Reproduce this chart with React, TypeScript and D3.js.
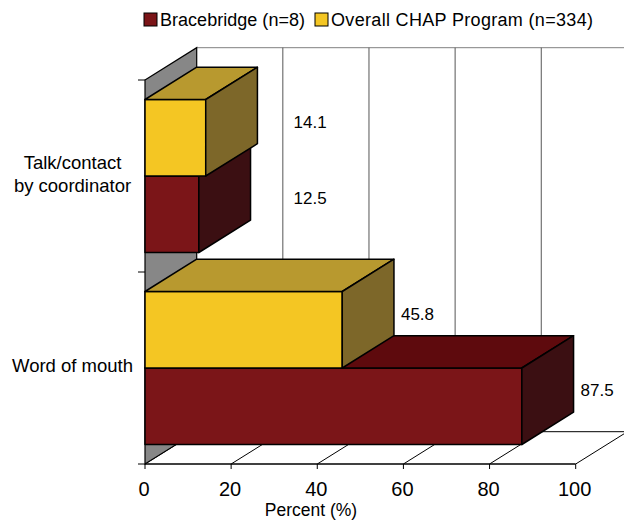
import React from "react";
import * as d3 from "d3";

const categories = ["Talk/contact by coordinator", "Word of mouth"];
const categoryLines = [["Talk/contact", "by coordinator"], ["Word of mouth"]];
const seriesNames = ["Bracebridge (n=8)", "Overall CHAP Program (n=334)"];
const bracebridge = [12.5, 87.5];
const overall = [14.1, 45.8];
const xTicks = [0, 20, 40, 60, 80, 100];

const W = 624;
const H = 522;
const FONT = "'Liberation Sans', Arial, sans-serif";

const palette = {
  red: { front: "#7B1518", top: "#5E0A0D", side: "#3B0F12", legend: "#7B1518" },
  yellow: { front: "#F4C623", top: "#B8992F", side: "#7D6729", legend: "#F4C623" },
};

export default function App() {
  const x = d3.scaleLinear().domain([0, 100]).range([145, 575.7]);
  const y = d3.scaleBand<string>().domain(categories).range([80, 464]);
  const dx = 51.7;
  const dy = 32.3;
  const bandH = y.bandwidth();
  const inner = d3
    .scaleBand<string>()
    .domain(["overall", "brace"])
    .range([19.5, bandH - 19.5]);
  const barH = inner.bandwidth();
  const x0 = x(0);
  const yTop = y.range()[0];
  const yBot = y.range()[1];

  const box = (v: number, top: number, c: typeof palette.red, key: string) => {
    const x1 = x(v);
    const b = top + barH;
    const front = `M${x0},${top}H${x1}V${b}H${x0}Z`;
    const topF = `M${x0},${top}L${x0 + dx},${top - dy}H${x1 + dx}L${x1},${top}Z`;
    const side = `M${x1},${top}L${x1 + dx},${top - dy}V${b - dy}L${x1},${b}Z`;
    return (
      <g key={key} stroke="#000" strokeWidth={1.5} strokeLinejoin="round">
        <path d={front} fill={c.front} />
        <path d={topF} fill={c.top} />
        <path d={side} fill={c.side} />
      </g>
    );
  };

  const order = [...categories].map((c, i) => ({ c, i })).reverse();
  const bars: React.ReactNode[] = [];
  const labels: React.ReactNode[] = [];
  order.forEach(({ c, i }) => {
    const y0 = y(c)!;
    const rTop = y0 + inner("brace")!;
    const oTop = y0 + inner("overall")!;
    bars.push(box(bracebridge[i], rTop, palette.red, `r${i}`));
    bars.push(box(overall[i], oTop, palette.yellow, `o${i}`));
    const lab = (v: number, top: number, k: string) => (
      <text
        key={k}
        x={Math.max(x(v) + dx + 7, x(34.5))}
        y={top + barH / 2 - dy / 2}
        dy="0.35em"
        fontSize={17}
        fontFamily={FONT}
        fill="#000"
      >
        {v.toFixed(1)}
      </text>
    );
    labels.push(lab(bracebridge[i], rTop, `lr${i}`));
    labels.push(lab(overall[i], oTop, `lo${i}`));
  });

  return (
    <svg
      width={W}
      height={H}
      style={{ position: "absolute", left: 0, top: 0, background: "#fff" }}
    >
      <rect width={W} height={H} fill="#fff" />
      <line x1={x0 + dx} x2={W + 10} y1={yTop - dy} y2={yTop - dy} stroke="#808080" strokeWidth={1} />
      {xTicks.slice(1).map((t) => (
        <line
          key={`g${t}`}
          x1={x(t) + dx}
          x2={x(t) + dx}
          y1={yTop - dy}
          y2={yBot - dy}
          stroke="#555"
          strokeWidth={1}
        />
      ))}
      <g stroke="#000" strokeWidth={1} fill="none">
        <line x1={x0 + dx} x2={x(100) + dx} y1={yBot - dy} y2={yBot - dy} />
        {xTicks.map((t) => (
          <line key={`f${t}`} x1={x(t)} y1={yBot} x2={x(t) + dx} y2={yBot - dy} />
        ))}
        <line x1={x0} x2={x(100)} y1={yBot} y2={yBot} strokeWidth={1.5} />
        {xTicks.map((t) => (
          <line key={`t${t}`} x1={x(t)} x2={x(t)} y1={yBot} y2={yBot + 5} />
        ))}
      </g>
      <path
        d={`M${x0},${yTop}L${x0 + dx},${yTop - dy}V${yBot - dy}L${x0},${yBot}Z`}
        fill="#878787"
        stroke="#000"
        strokeWidth={1.2}
      />
      <g stroke="#000" strokeWidth={1}>
        {[...categories.map((c) => y(c)!), yBot].map((v, k) => (
          <line key={`yt${k}`} x1={x0 - 7} x2={x0} y1={v} y2={v} />
        ))}
      </g>
      {bars}
      {labels}
      {xTicks.map((t) => (
        <text
          key={`xl${t}`}
          x={x(t) - 1}
          y={496}
          textAnchor="middle"
          fontSize={20}
          fontFamily={FONT}
        >
          {t}
        </text>
      ))}
      <text x={311} y={516} textAnchor="middle" fontSize={17.5} fontFamily={FONT}>
        Percent (%)
      </text>
      {categories.map((c, i) => {
        const lines = categoryLines[i];
        const cy = y(c)! + bandH / 2 - 2;
        const lh = 23.5;
        return (
          <text
            key={`cl${i}`}
            textAnchor="middle"
            fontSize={18.5}
            fontFamily={FONT}
          >
            {lines.map((l, k) => (
              <tspan
                key={k}
                x={72.5}
                y={cy + (k - (lines.length - 1) / 2) * lh}
                dy="0.35em"
              >
                {l}
              </tspan>
            ))}
          </text>
        );
      })}
      <g fontFamily={FONT} fontSize={18}>
        <rect x={144} y={13} width={13} height={13} fill={palette.red.legend} stroke="#000" strokeWidth={1} />
        <text x={160} y={26} textLength={145} lengthAdjust="spacing">{seriesNames[0]}</text>
        <rect x={315} y={13} width={13} height={13} fill={palette.yellow.legend} stroke="#000" strokeWidth={1} />
        <text x={331} y={26} textLength={262} lengthAdjust="spacing">{seriesNames[1]}</text>
      </g>
    </svg>
  );
}
